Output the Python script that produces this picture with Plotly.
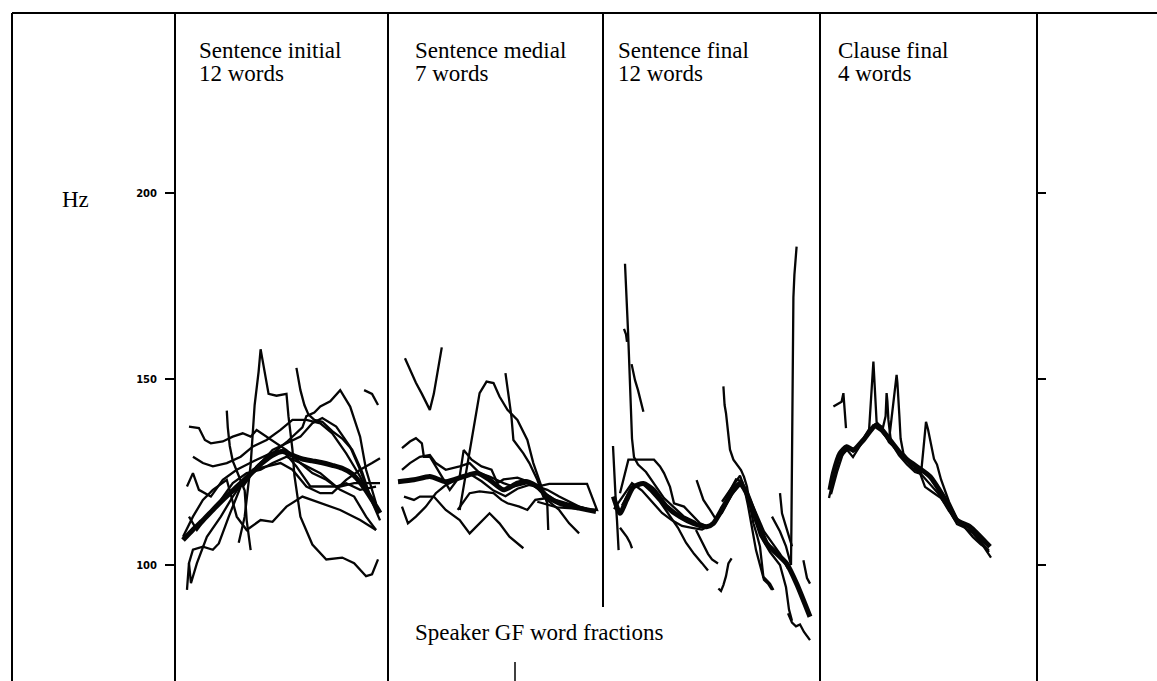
import plotly.graph_objects as go

W, H = 1157, 681

# ---------------- data (word fraction 0..1, F0 in Hz) ----------------
PANEL_TITLES = [("Sentence initial", "12 words"), ("Sentence medial", "7 words"),
                ("Sentence final", "12 words"), ("Clause final", "4 words")]
Y_TICKS = [100, 150, 200]
Y_TICK_TEXT = ["100", "150", "200"]
X_LABEL = "Speaker GF word fractions"
Y_LABEL = "Hz"

# Sentence initial
initial_mean_x = [0, .05, .1, .15, .2, .25, .3, .35, .4, .45, .5, .55, .6, .65, .7, .75, .8, .85, .9, .95, .99]
initial_mean_hz = [106.7, 109.5, 112, 114.8, 117.5, 120, 122.5, 125, 127.5, 129.5, 130.5, 129.5, 128.5, 128, 127.5, 126.8, 126, 124.5, 121.5, 117.5, 114]
initial_thin = [
    ([.28, .31, .34, .36, .38, .39, .40, .42, .43, .47, .52, .53, .55, .56, .59, .65, .72, .80, .86, .92, .95, .98],
     [106, 113, 127, 143, 152, 158, 155, 149, 146, 145.5, 146, 140, 131, 124, 113, 105.5, 101.5, 102, 100.5, 97, 97.5, 101.5]),
    ([.57, .59, .61, .63, .66, .70, .75, .80, .85, .90, .95, .99],
     [153, 147, 143, 140.5, 139, 138.5, 136, 134, 131, 125, 117, 112]),
    ([.30, .38, .45, .52, .60, .62, .66, .69, .74, .79, .84, .89, .92, .97],
     [121, 127, 130, 133, 137, 140, 141, 142.6, 144, 147, 142.6, 134.5, 125.6, 116.6]),
    ([.91, .95, .98], [147, 146, 143]),
    ([.03, .08, .11, .14, .2, .25, .3, .34, .37, .42, .47, .52, .59, .69, .77, .82, .89, .97],
     [137.2, 136.8, 133.6, 132.7, 133.2, 134.5, 135.4, 134.5, 136.3, 134.5, 132.7, 130.9, 127.4, 124.7, 121.1, 122, 120.2, 121.1]),
    ([.02, .03, .05, .1, .15, .18, .23, .29, .35, .42, .49, .55, .62, .69, .75, .82, .89, .95, .99],
     [93.3, 100.5, 104.1, 104.9, 104.1, 105.8, 113, 121.1, 125.6, 126.5, 127.4, 125.6, 121.1, 119.3, 119.3, 122.9, 125.6, 127.4, 128.7]),
    ([0, .05, .1, .15, .22, .27, .32, .39, .45, .52, .6, .69, .79, .89, .97],
     [107.6, 113, 117.5, 120.2, 122.9, 113, 109.4, 112.1, 111.6, 115.7, 118.4, 116.6, 114.8, 112.1, 109.4]),
    ([.22, .225, .235, .25, .28, .31, .32, .335, .34],
     [141.5, 137, 132, 128, 124, 120, 112, 106, 104]),
    ([.05, .1, .15, .22, .29, .35, .42, .49, .55, .62, .69, .75, .82, .89, .95, .99],
     [129.1, 127.4, 126.5, 127.4, 129.1, 131.8, 133.6, 136.3, 139, 139, 138.1, 135.4, 130, 123.8, 117.5, 114.4]),
    ([.02, .05, .08, .14, .2, .27, .37, .44, .5, .57, .64, .72, .79, .86, .92, .99],
     [121.1, 124.7, 120.2, 118.4, 122.9, 125.6, 128.3, 130, 130.9, 126.5, 121.1, 121.1, 121.1, 122, 122, 122]),
    ([.03, .07, .12, .19, .25, .32, .39, .45, .52, .59, .65, .72, .79, .86, .92, .97],
     [113, 109.4, 113, 117.5, 122, 124.7, 125.6, 127.4, 129.1, 127.4, 124.7, 122.9, 120.2, 118.4, 113, 109.4]),
    ([.03, .04, .07, .12, .19, .25, .32, .39, .45, .52, .59, .65, .7, .77, .84, .89, .94, .98],
     [100.5, 95.1, 100.5, 107.6, 113, 118.4, 123.8, 127.4, 130.9, 132.7, 134.5, 138.1, 139.5, 137.2, 131.8, 125.6, 118.4, 114.8]),
]

# Sentence medial
medial_mean_x = [0, .08, .16, .24, .33, .4, .46, .53, .6, .65, .7, .75, .81, .91, .995]
medial_mean_hz = [122.4, 122.9, 123.8, 122.4, 123.8, 124.7, 122.9, 120.2, 122, 122.4, 121.1, 118.4, 116.6, 115.3, 114.4]
medial_thin = [
    ([.035, .06, .09, .12, .16, .18, .2, .22], [155.6, 152.5, 149, 146, 141.7, 146, 152, 158.5]),
    ([.31, .345, .38, .41, .445, .48, .51, .55, .6, .65, .68, .71, .75, .755],
     [114.8, 125.6, 136.3, 146.2, 149.3, 148.9, 145.3, 141.7, 139, 133.6, 127.4, 122.9, 116.6, 109.4]),
    ([.54, .555, .57, .58, .63, .66, .7, .73, .81, .86, .91],
     [151.6, 145.3, 139.9, 133.6, 130, 127.4, 122.9, 118.4, 114.8, 111.2, 108.5]),
    ([.03, .08, .11, .18, .24, .31, .36, .41, .46, .51, .56, .63],
     [118.4, 117.5, 118.4, 118.4, 114.8, 112.1, 108.5, 111.2, 113.9, 111.2, 107.6, 104.5]),
    ([.3, .36, .41, .48, .52, .55, .61, .65, .69, .75, .8, .9, .99],
     [114.8, 119.3, 119.8, 119.3, 117.5, 116.6, 115.7, 114.8, 117.5, 118, 117, 115.5, 114.5]),
    ([.02, .06, .09, .12, .13, .16, .18, .21, .26, .31, .33, .37, .42, .47, .5, .53, .6, .65, .71, .79, .9, .99],
     [131.4, 133.2, 134.1, 132.7, 129.1, 129.1, 127.4, 124.7, 120.2, 123.8, 130.9, 128.3, 126.5, 125.6, 122, 123, 123.5, 122.5, 120.2, 117.5, 115.7, 114.4]),
    ([.02, .06, .11, .16, .19, .24, .31, .36, .41, .46, .53, .58, .65, .7, .75, .81, .91, .99],
     [125.6, 127.4, 129.1, 129.6, 127.4, 125.6, 126.5, 127.4, 124.7, 123.8, 122, 121.1, 122, 121.1, 120.2, 118.4, 115.7, 114.4]),
    ([.02, .05, .09, .14, .19, .24, .3, .36, .42, .48, .54, .6, .66, .7, .76, .95, 1.0, .8, .7],
     [115.7, 111.2, 113, 115.7, 119.3, 121.5, 123, 124.5, 122.5, 120, 118.5, 120.5, 121.5, 121.1, 121.8, 121.8, 114.8, 115.5, 117]),
]

# Sentence final
final_mean_x = [.007, .04, .073, .107, .157, .207, .273, .34, .407, .473, .507, .557, .607, .64, .673, .723, .773, .823, .873, .923, .99]
final_mean_hz = [118.4, 113.9, 117.5, 121, 121.9, 120.2, 115.7, 113, 111.2, 110.3, 111.2, 115.7, 120.2, 122, 119.3, 112.1, 105.8, 103.1, 100.4, 95, 86.1]
final_thin = [
    ([.065, .07, .075, .08, .085, .09, .095, .10, .11, .13, .17, .21, .26, .31, .36, .42],
     [181, 176, 170, 163, 156, 149, 141, 134, 129, 127, 125, 122, 118, 115.5, 113, 111.5]),
    ([.098, .105, .115, .13, .145, .157], [154, 152, 149.7, 147, 144, 141.2]),
    ([.06, .07, .075], [163.5, 162, 160]),
    ([.04, .06, .082, .12, .16, .21, .24, .26, .29, .31, .36, .41, .44, .48],
     [119.3, 124, 128.3, 128.3, 128.3, 128.3, 126.5, 124.7, 121, 116.6, 115.7, 113, 111.2, 110.3]),
    ([.557, .563, .57, .58, .59, .607, .625, .645, .66, .675, .69, .707, .725, .74, .757, .79, .807],
     [148, 143, 140.8, 136.3, 131, 128.3, 127, 125.5, 123.7, 121, 116, 111.2, 108, 104.9, 96.8, 95, 93.3]),
    ([.55, .6, .64, .66, .68, .70, .72, .74, .76, .78, .80],
     [117, 121, 124, 121, 116, 110, 104, 100, 96, 95, 93.3]),
    ([.58, .62, .65, .69, .71, .74, .79, .84, .87, .885, .9],
     [119, 123, 122.5, 117, 113, 108, 103.5, 100, 94, 88, 85]),
    ([.80, .84, .87, .895, .897, .899, .901, .904, .907, .912, .923],
     [113, 109, 105, 100, 110, 125, 145, 160, 172, 178, 185.6]),
    ([.005, .008, .012, .016, .02, .025, .03, .033], [132, 128, 124, 120, 116, 112, 108, 104]),
    ([.04, .06, .075, .09, .1], [110, 108.5, 107.5, 106, 104.5]),
    ([.05, .1, .15, .19, .24, .28, .33, .37, .41, .45, .48],
     [116, 121, 122, 120, 117, 114, 110, 106, 103, 100.5, 98.5]),
    ([.423, .44, .457, .49, .523], [122.8, 120.2, 117.5, 114.8, 112]),
    ([.42, .45, .48, .5, .53], [109.4, 106, 103, 101.5, 100.4]),
    ([.532, .545, .557, .57, .582, .598], [93.7, 93, 94.6, 97, 100.4, 101.8]),
    ([.84, .85, .865, .88, .9], [119.3, 113.9, 111.2, 108.5, 105]),
    ([.957, .965, .975, .99], [101.3, 98.6, 96.5, 95]),
    ([.88, .9, .92, .94, .96, .99], [87, 84.5, 83.5, 84, 82, 79.8]),
    ([.01, .05, .1, .15, .2, .25, .3, .35, .4, .45, .5, .55, .6, .64, .68, .72, .76, .8, .84, .88],
     [115, 118, 122, 120, 117, 114, 112, 110.5, 110, 109.5, 111, 114, 119, 121.5, 119, 114, 109, 106, 103, 99]),
]

# Clause final
clause_mean_x = [.005, .022, .055, .088, .122, .172, .238, .305, .372, .438, .505, .572, .638, .705, .805]
clause_mean_hz = [120.2, 124.7, 130, 131.8, 130.9, 133.6, 137.7, 133.6, 129.1, 126.5, 123.8, 118.4, 112.1, 110.3, 104.9]
clause_thin = [
    ([0, .02, .05, .09, .12, .16, .2, .222, .226, .23, .238, .27, .3, .34, .38, .42, .455, .48, .52, .56, .6, .64, .68, .72, .76, .81],
     [118, 123, 128.5, 131, 129, 132.5, 136, 154.7, 150, 145.3, 138.5, 136, 133, 131, 128.5, 126, 124.7, 121, 119.5, 118, 115, 111, 110, 108.5, 106, 102]),
    ([.005, .03, .06, .09, .12, .16, .2, .24, .27, .283, .288, .292, .297, .31, .35, .39, .43, .46, .47, .48, .485, .495, .51, .525, .54, .56, .6, .64, .68, .72, .76, .8],
     [121, 126, 130.5, 132, 130.5, 133, 136.5, 138, 137, 140, 146.2, 144, 139, 133, 129.5, 127, 125, 124.5, 130, 135, 138.5, 136.5, 132, 128.5, 127, 123, 117, 112.5, 110, 107.5, 105.5, 104]),
    ([.01, .04, .07, .1, .14, .18, .22, .26, .3, .338, .342, .347, .352, .358, .372, .41, .45, .5, .55, .6, .65, .7, .75, .8],
     [119, 125, 130, 131.5, 131, 134.5, 137.5, 136, 133.5, 151.1, 149, 145.3, 140, 134, 130, 127.5, 125, 122, 119, 114.5, 111.5, 110, 107, 103.5]),
    ([.022, .05, .063, .072, .08, .085], [142.6, 143.5, 143.9, 146.2, 141.7, 136.8]),
]

PANELS = [
    (initial_mean_x, initial_mean_hz, initial_thin),
    (medial_mean_x, medial_mean_hz, medial_thin),
    (final_mean_x, final_mean_hz, final_thin),
    (clause_mean_x, clause_mean_hz, clause_thin),
]

# ---------------- layout geometry (pixels) ----------------
DIVIDERS = [175, 388, 603, 820, 1037]
CURVE_START = [183, 398, 612, 829]
CURVE_SPAN = [199, 199, 200, 200]
TOP = 13
Y200_PX, Y100_PX = 193, 565
hz_per_px = 100 / (Y100_PX - Y200_PX)
y_top = 200 + Y200_PX * hz_per_px
y_bot = 100 - (H - Y100_PX) * hz_per_px

def px(x):
    return x / W

def py(y):
    return 1 - y / H

fig = go.Figure()
INK = "#050505"
for i, (mx, my, thin) in enumerate(PANELS):
    xa = "x" if i == 0 else f"x{i + 1}"
    ya = "y2" if i == 3 else "y"
    for tx, ty in thin:
        fig.add_trace(go.Scatter(x=tx, y=ty, mode="lines", xaxis=xa, yaxis=ya,
                                 line=dict(color=INK, width=2.3), showlegend=False, hoverinfo="skip"))
    fig.add_trace(go.Scatter(x=mx, y=my, mode="lines", xaxis=xa, yaxis=ya,
                             line=dict(color=INK, width=5, shape="spline", smoothing=0.6),
                             showlegend=False, hoverinfo="skip"))

layout = dict(
    width=W, height=H, paper_bgcolor="white", plot_bgcolor="rgba(0,0,0,0)",
    margin=dict(l=0, r=0, t=0, b=0), showlegend=False,
)
for i in range(4):
    key = "xaxis" if i == 0 else f"xaxis{i + 1}"
    left, right = DIVIDERS[i], DIVIDERS[i + 1]
    r0 = (left - CURVE_START[i]) / CURVE_SPAN[i]
    r1 = (right - CURVE_START[i]) / CURVE_SPAN[i]
    layout[key] = dict(domain=[px(left), px(right)], range=[r0, r1], visible=False,
                       anchor="y" if i < 3 else "y2")
layout["yaxis"] = dict(domain=[0, 1], range=[y_bot, y_top], anchor="x", side="left",
                       tickvals=Y_TICKS, ticktext=Y_TICK_TEXT, ticks="outside", ticklen=9,
                       tickwidth=2, tickcolor="black", showline=False, showgrid=False,
                       zeroline=False, ticklabelstandoff=6,
                       tickfont=dict(family="DejaVu Sans", size=10, color="black", weight="bold"))
layout["yaxis2"] = dict(domain=[0, 1], range=[y_bot, y_top], anchor="x4", side="right",
                        tickvals=Y_TICKS, ticks="outside", ticklen=8, tickwidth=2,
                        tickcolor="black", showticklabels=False, showline=False,
                        showgrid=False, zeroline=False, matches="y")
fig.update_layout(**layout)

# frame and panel dividers
line = dict(color="black", width=2)
fig.add_shape(type="line", xref="paper", yref="paper", x0=px(12), x1=1, y0=py(TOP), y1=py(TOP), line=line)
fig.add_shape(type="line", xref="paper", yref="paper", x0=px(12), x1=px(12), y0=py(TOP), y1=0, line=line)
for d in DIVIDERS:
    bottom = py(607) if d == 603 else 0
    fig.add_shape(type="line", xref="paper", yref="paper", x0=px(d), x1=px(d),
                  y0=py(TOP), y1=bottom, line=line)
fig.add_shape(type="line", xref="paper", yref="paper", x0=px(515), x1=px(515),
              y0=py(662), y1=0, line=dict(color="black", width=1.5))

font = dict(family="Liberation Serif", size=23, color="black")
TITLE_X = [197, 413, 616, 836]
for tx, (l1, l2) in zip(TITLE_X, PANEL_TITLES):
    fig.add_annotation(text=l1, xref="paper", yref="paper", x=px(tx), y=py(50),
                       xanchor="left", yanchor="middle", showarrow=False, font=font)
    fig.add_annotation(text=l2, xref="paper", yref="paper", x=px(tx), y=py(74),
                       xanchor="left", yanchor="middle", showarrow=False, font=font)
fig.add_annotation(text=Y_LABEL, xref="paper", yref="paper", x=px(60), y=py(199),
                   xanchor="left", yanchor="middle", showarrow=False, font=font)
fig.add_annotation(text=X_LABEL, xref="paper", yref="paper", x=px(413), y=py(632),
                   xanchor="left", yanchor="middle", showarrow=False, font=font)

fig.write_html("out.html", config={"displayModeBar": False},
               post_script="document.body.style.margin='0';document.body.style.overflow='hidden';")
